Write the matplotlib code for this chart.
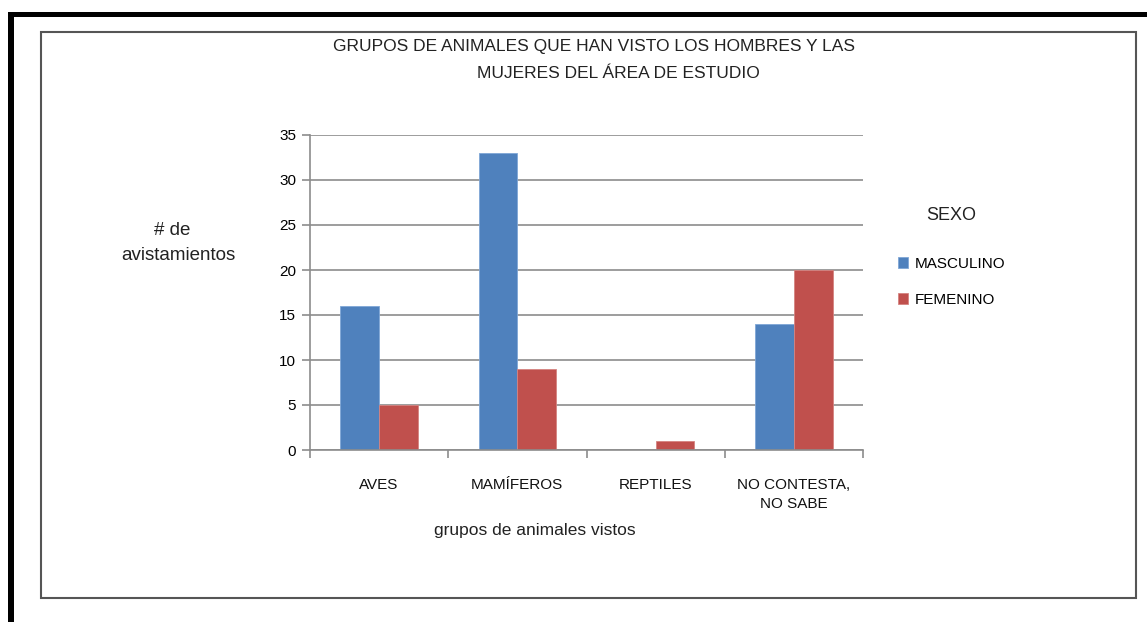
import matplotlib.pyplot as plt
import numpy as np
from matplotlib.patches import Rectangle

# data
grupos = ['AVES', 'MAMÍFEROS', 'REPTILES', 'NO CONTESTA,\nNO SABE']
masculino = [16, 33, 0, 14]
femenino = [5, 9, 1, 20]
series = ['MASCULINO', 'FEMENINO']
colores = ['#4F81BD', '#C0504D']

plt.rcParams['font.family'] = ['Liberation Sans', 'DejaVu Sans']

fig = plt.figure(figsize=(11.47, 6.22), dpi=100)

# outer black frame (left and top) and grey chart box
fig.patches.append(Rectangle((8 / 1147, 0), 6 / 1147, 1 - 12 / 622, transform=fig.transFigure,
                             facecolor='black', edgecolor='none'))
fig.patches.append(Rectangle((8 / 1147, 1 - 17 / 622), 1 - 8 / 1147, 5 / 622, transform=fig.transFigure,
                             facecolor='black', edgecolor='none'))
fig.patches.append(Rectangle((41 / 1147, 1 - 598 / 622), (1136 - 41) / 1147, (598 - 32) / 622,
                             transform=fig.transFigure, facecolor='none', edgecolor='#555555', linewidth=1.5))

ax = fig.add_axes([310 / 1147, 1 - 450 / 622, 553 / 1147, 315 / 622])

x = np.arange(len(grupos))
w = 0.28
ax.bar(x - w / 2, masculino, w, color=colores[0], label=series[0], edgecolor='#7FA6D6', linewidth=0.6)
ax.bar(x + w / 2, femenino, w, color=colores[1], label=series[1], edgecolor='#D58481', linewidth=0.6)

ax.set_xlim(-0.5, len(grupos) - 0.5)
ax.set_ylim(0, 35)
ax.set_yticks(range(0, 36, 5))
ax.yaxis.grid(True, color='#8C8C8C', linewidth=1.2)
ax.set_axisbelow(True)
for s in ['top', 'right']:
    ax.spines[s].set_visible(False)
ax.spines['left'].set_color('#8C8C8C')
ax.spines['bottom'].set_color('#8C8C8C')
ax.spines['left'].set_linewidth(1.2)
ax.spines['bottom'].set_linewidth(1.2)

ax.set_xticks(x)
ax.set_xticklabels(grupos, fontsize=11, color='#111111', linespacing=1.5)
ax.tick_params(axis='x', length=0, pad=20)
ax.set_xticks(np.arange(-0.5, len(grupos)), minor=True)
ax.tick_params(axis='x', which='minor', length=6, color='#8C8C8C', width=1.2)
ax.tick_params(axis='y', length=6, color='#8C8C8C', width=1.2, labelsize=11, pad=4)
ax.tick_params(axis='y', direction='out')

fig.text(594 / 1147, 1 - 47 / 622, 'GRUPOS DE ANIMALES QUE HAN VISTO LOS HOMBRES Y LAS',
         ha='center', va='center', fontsize=12.5, color='#222222')
fig.text(618 / 1147, 1 - 73 / 622, 'MUJERES DEL ÁREA DE ESTUDIO',
         ha='center', va='center', fontsize=12.5, color='#222222')
fig.text(172 / 1147, 1 - 231 / 622, '# de', ha='center', va='center', fontsize=13.5, color='#222222')
fig.text(178 / 1147, 1 - 255 / 622, 'avistamientos', ha='center', va='center', fontsize=13.5, color='#222222')
fig.text(535 / 1147, 1 - 530 / 622, 'grupos de animales vistos', ha='center', va='center', fontsize=12.5,
         color='#222222')

leg = fig.legend(loc='upper left', bbox_to_anchor=(884 / 1147, 1 - 205 / 622), frameon=False,
                 title='SEXO', title_fontsize=13, fontsize=11, handlelength=0.7, handleheight=0.7,
                 handletextpad=0.4, labelspacing=1.4)
leg._legend_box.align = 'left'
leg.get_title().set_position((28, 12))
leg.get_title().set_color('#222222')

fig.savefig('out.png', dpi=100, facecolor='white')
